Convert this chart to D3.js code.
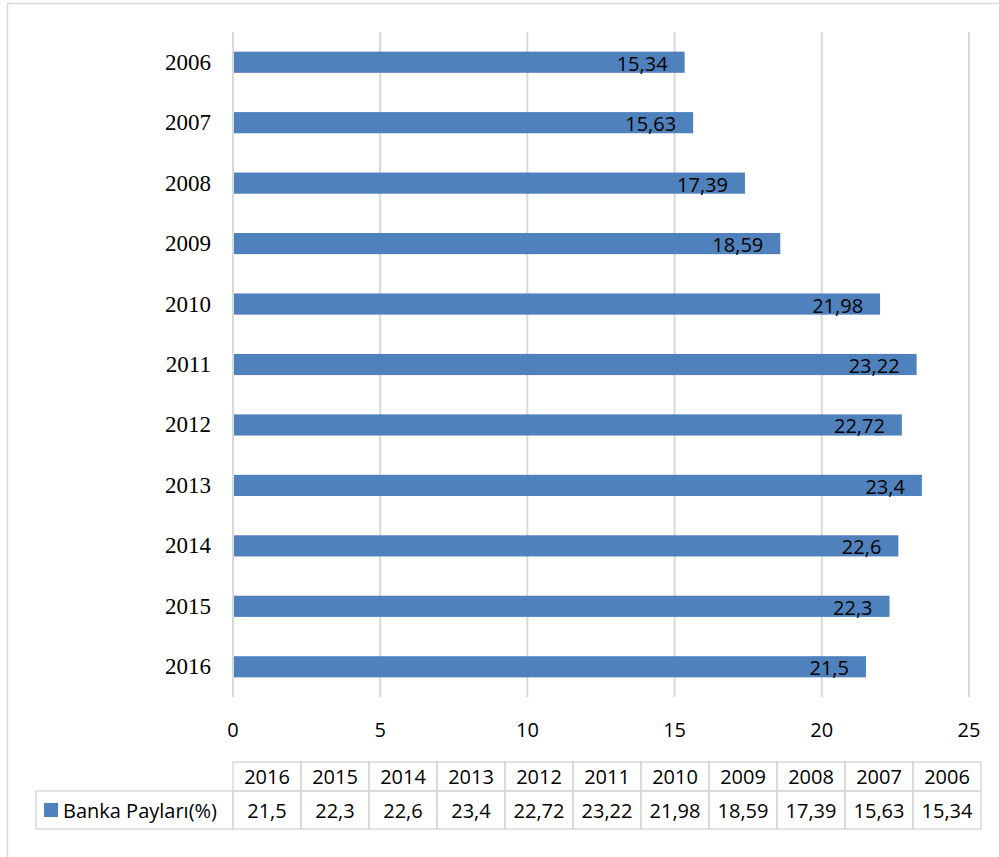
<!DOCTYPE html>
<html>
<head>
<meta charset="utf-8">
<script src="https://cdn.jsdelivr.net/npm/d3@7"></script>
<style>
  html, body { margin: 0; padding: 0; background: #fff; }
  svg { display: block; }
</style>
</head>
<body>
<div id="chart"></div>
<script>
// Banka Paylari (%) by year
const years = ['2006', '2007', '2008', '2009', '2010', '2011', '2012', '2013', '2014', '2015', '2016'];
const shares = [15.34, 15.63, 17.39, 18.59, 21.98, 23.22, 22.72, 23.4, 22.6, 22.3, 21.5];
const xTicks = [0, 5, 10, 15, 20, 25];
const seriesName = 'Banka Payları(%)';

const width = 999, height = 857;
const barColor = '#4F81BD';
const gridColor = '#D9D9D9';
const sansFont = '"Open Sans", "Liberation Sans", sans-serif';
const serifFont = '"Liberation Serif", "Times New Roman", serif';

const fmt = v => String(v).replace('.', ',');

const svg = d3.select('#chart').append('svg')
  .attr('width', width)
  .attr('height', height);

// Outer chart frame (only top/left visible in the crop)
svg.append('rect')
  .attr('x', 7.5)
  .attr('y', 3.5)
  .attr('width', 1000)
  .attr('height', 900)
  .attr('fill', 'none')
  .attr('stroke', gridColor)
  .attr('stroke-width', 1.5);

const x = d3.scaleLinear()
  .domain([0, 25])
  .range([233, 969]);

const y = d3.scaleBand()
  .domain(years)
  .range([32, 697])
  .paddingInner(0.65)
  .paddingOuter(0.325);

// Vertical gridlines
svg.append('g')
  .selectAll('line')
  .data(xTicks)
  .join('line')
  .attr('x1', d => x(d))
  .attr('x2', d => x(d))
  .attr('y1', 32)
  .attr('y2', 697)
  .attr('stroke', gridColor)
  .attr('stroke-width', 2);

// Tick labels
svg.append('g')
  .selectAll('text')
  .data(xTicks)
  .join('text')
  .attr('x', d => x(d))
  .attr('y', 729)
  .attr('text-anchor', 'middle')
  .attr('dominant-baseline', 'central')
  .attr('font-family', sansFont)
  .attr('font-size', '20px')
  .attr('fill', '#000')
  .text(d => d);

// Category labels
svg.append('g')
  .selectAll('text')
  .data(years)
  .join('text')
  .attr('x', 211)
  .attr('y', d => y(d) + y.bandwidth() / 2)
  .attr('text-anchor', 'end')
  .attr('dominant-baseline', 'central')
  .attr('font-family', serifFont)
  .attr('font-size', '23px')
  .attr('fill', '#000')
  .text(d => d);

// Bars
svg.append('g')
  .selectAll('rect')
  .data(years)
  .join('rect')
  .attr('x', x(0) + 1)
  .attr('y', d => y(d))
  .attr('width', (d, i) => x(shares[i]) - x(0) - 1)
  .attr('height', y.bandwidth())
  .attr('fill', barColor);

// Data labels, inside end
svg.append('g')
  .selectAll('text')
  .data(years)
  .join('text')
  .attr('x', (d, i) => x(shares[i]) - 17)
  .attr('y', d => y(d) + y.bandwidth() / 2 + 1)
  .attr('text-anchor', 'end')
  .attr('dominant-baseline', 'central')
  .attr('font-family', sansFont)
  .attr('font-size', '20px')
  .attr('fill', '#000')
  .text((d, i) => fmt(shares[i]));

// Data table below the chart
const tableYears = years.slice().reverse();
const tableValues = shares.slice().reverse();
const colX = d3.scaleBand()
  .domain(tableYears)
  .range([233, 981]);

const rowTop = 762, rowMid = 791, rowBottom = 829;
const table = svg.append('g');

// Header cells
table.selectAll('rect.head')
  .data(tableYears)
  .join('rect')
  .attr('class', 'head')
  .attr('x', d => colX(d))
  .attr('y', rowTop)
  .attr('width', colX.bandwidth())
  .attr('height', rowMid - rowTop)
  .attr('fill', 'none')
  .attr('stroke', gridColor)
  .attr('stroke-width', 1.5);

// Value cells
table.selectAll('rect.val')
  .data(tableYears)
  .join('rect')
  .attr('class', 'val')
  .attr('x', d => colX(d))
  .attr('y', rowMid)
  .attr('width', colX.bandwidth())
  .attr('height', rowBottom - rowMid)
  .attr('fill', 'none')
  .attr('stroke', gridColor)
  .attr('stroke-width', 1.5);

// Legend cell
table.append('rect')
  .attr('x', 36)
  .attr('y', rowMid)
  .attr('width', 233 - 36)
  .attr('height', rowBottom - rowMid)
  .attr('fill', 'none')
  .attr('stroke', gridColor)
  .attr('stroke-width', 1.5);

table.append('rect')
  .attr('x', 44)
  .attr('y', 803)
  .attr('width', 14)
  .attr('height', 14)
  .attr('fill', barColor);

table.append('text')
  .attr('x', 63)
  .attr('y', 810)
  .attr('dominant-baseline', 'central')
  .attr('font-family', sansFont)
  .attr('font-size', '20px')
  .attr('fill', '#000')
  .text(seriesName);

table.selectAll('text.head')
  .data(tableYears)
  .join('text')
  .attr('class', 'head')
  .attr('x', d => colX(d) + colX.bandwidth() / 2)
  .attr('y', 776)
  .attr('text-anchor', 'middle')
  .attr('dominant-baseline', 'central')
  .attr('font-family', sansFont)
  .attr('font-size', '20px')
  .attr('fill', '#000')
  .text(d => d);

table.selectAll('text.val')
  .data(tableYears)
  .join('text')
  .attr('class', 'val')
  .attr('x', d => colX(d) + colX.bandwidth() / 2)
  .attr('y', 810)
  .attr('text-anchor', 'middle')
  .attr('dominant-baseline', 'central')
  .attr('font-family', sansFont)
  .attr('font-size', '20px')
  .attr('fill', '#000')
  .text((d, i) => fmt(tableValues[i]));
</script>
</body>
</html>
